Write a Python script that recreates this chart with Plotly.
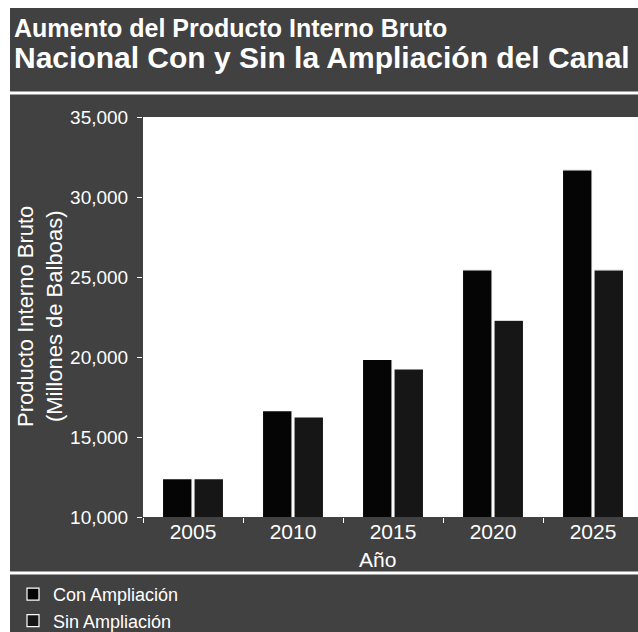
import plotly.graph_objects as go

# GDP series (millions of balboas), with and without the canal expansion
years = ["2005", "2010", "2015", "2020", "2025"]
con_ampliacion = [12400, 16650, 19850, 25450, 31700]
sin_ampliacion = [12400, 16250, 19250, 22300, 25450]
y_ticks = [10000, 15000, 20000, 25000, 30000, 35000]

title_line1 = "Aumento del Producto Interno Bruto"
title_line2 = "Nacional Con y Sin la Ampliación del Canal"
y_title = "Producto Interno Bruto<br>(Millones de Balboas)"
x_title = "Año"

# Figure geometry in pixels
W, H = 638, 632
L, R, T, B = 143, 0, 117, 115
PW, PH = W - L - R, H - T - B

def px_x(p):
    return (p - L) / PW

def px_y(p):
    return (H - B - p) / PH

BG = "#414141"
FONT = "Liberation Sans"

fig = go.Figure()
fig.add_trace(go.Bar(
    name="Con Ampliación", x=years, y=con_ampliacion,
    marker=dict(color="#050505", line=dict(color="white", width=1.2)),
))
fig.add_trace(go.Bar(
    name="Sin Ampliación", x=years, y=sin_ampliacion,
    marker=dict(color="#161616", line=dict(color="white", width=1.2)),
))

shapes = [
    # white border strips along the top and left edges
    dict(type="rect", xref="paper", yref="paper", x0=px_x(0), x1=px_x(W),
         y0=px_y(0), y1=px_y(8), fillcolor="white", line=dict(width=0)),
    dict(type="rect", xref="paper", yref="paper", x0=px_x(0), x1=px_x(10),
         y0=px_y(H), y1=px_y(0), fillcolor="white", line=dict(width=0)),
    # rule under the title and above the legend
    dict(type="line", xref="paper", yref="paper", x0=px_x(10), x1=px_x(W),
         y0=px_y(93), y1=px_y(93), line=dict(color="white", width=3)),
    dict(type="line", xref="paper", yref="paper", x0=px_x(10), x1=px_x(W),
         y0=px_y(573), y1=px_y(573), line=dict(color="white", width=3)),
]

annotations = [
    dict(text=f"<b>{title_line1}</b>", xref="paper", yref="paper",
         x=px_x(12), y=px_y(28), xanchor="left", yanchor="middle",
         showarrow=False, font=dict(family=FONT, size=25, color="white")),
    dict(text=f"<b>{title_line2}</b>", xref="paper", yref="paper",
         x=px_x(12), y=px_y(57), xanchor="left", yanchor="middle",
         showarrow=False, font=dict(family=FONT, size=30, color="white")),
    dict(text=y_title, xref="paper", yref="paper", textangle=-90,
         x=px_x(40), y=px_y(317), xanchor="center", yanchor="middle",
         showarrow=False, font=dict(family=FONT, size=22, color="white")),
    dict(text=x_title, xref="paper", yref="paper",
         x=px_x(377), y=px_y(559), xanchor="center", yanchor="middle",
         showarrow=False, font=dict(family=FONT, size=21, color="white")),
]

fig.update_layout(
    width=W, height=H,
    margin=dict(l=L, r=R, t=T, b=B, autoexpand=False),
    paper_bgcolor=BG, plot_bgcolor="white",
    barmode="group", bargap=0.37, bargroupgap=0.06,
    shapes=shapes, annotations=annotations,
    font=dict(family=FONT, color="white"),
    legend=dict(
        x=px_x(13), y=px_y(576), xanchor="left", yanchor="top",
        bgcolor="rgba(0,0,0,0)", borderwidth=0,
        font=dict(family=FONT, size=18, color="white"),
        traceorder="normal",
    ),
    showlegend=True,
)
fig.update_xaxes(
    type="category", range=[-0.5, -0.5 + PW / 100.0],
    showgrid=False, zeroline=False, showline=False,
    ticks="outside", tickson="boundaries", ticklen=5, tickcolor="white",
    tickfont=dict(family=FONT, size=21, color="white"),
)
fig.update_yaxes(
    range=[10000, 35000], tickvals=y_ticks, tickformat=",",
    showgrid=False, zeroline=False, showline=False,
    ticks="outside", ticklen=5, tickcolor="white", ticklabelstandoff=5,
    tickfont=dict(family=FONT, size=19, color="white"),
)

fig.write_html("out.html")
